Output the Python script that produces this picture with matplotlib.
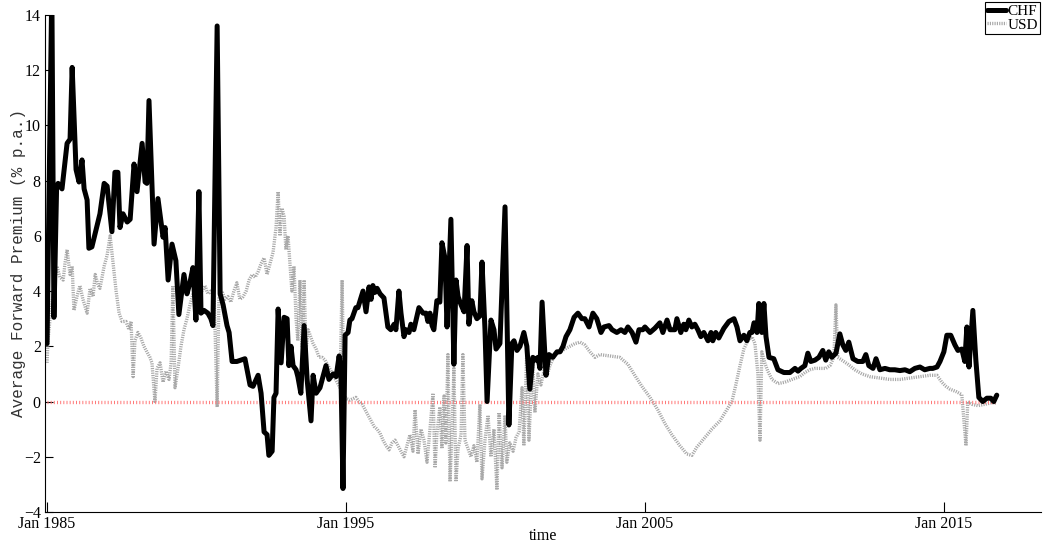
import matplotlib
matplotlib.use("Agg")
import matplotlib.pyplot as plt
import numpy as np

# CHF forward premium (decimal year, % p.a.)
chf_t = [1985.0, 1985.16, 1985.23, 1985.32, 1985.37, 1985.50, 1985.67, 1985.77, 1985.84, 1985.97,
         1986.07, 1986.17, 1986.24, 1986.34, 1986.40, 1986.50, 1986.77, 1986.91, 1987.01, 1987.17,
         1987.27, 1987.37, 1987.44, 1987.54, 1987.68, 1987.78, 1987.91, 1988.01, 1988.18, 1988.28,
         1988.34, 1988.41, 1988.58, 1988.71, 1988.88, 1988.95, 1989.05, 1989.18, 1989.31, 1989.41,
         1989.58, 1989.68, 1989.78, 1989.88, 1989.98, 1990.08, 1990.15, 1990.25, 1990.38, 1990.48,
         1990.55, 1990.69, 1990.79, 1990.89, 1991.02, 1991.09, 1991.19, 1991.35, 1991.62, 1991.79,
         1991.89, 1992.06, 1992.16, 1992.26, 1992.36, 1992.42, 1992.53, 1992.59, 1992.66, 1992.73,
         1992.83, 1992.93, 1993.03, 1993.09, 1993.16, 1993.23, 1993.33, 1993.39, 1993.49, 1993.60,
         1993.70, 1993.83, 1993.90, 1994.00, 1994.13, 1994.33, 1994.43, 1994.57, 1994.67, 1994.77,
         1994.83, 1994.90, 1994.97, 1995.07, 1995.13, 1995.20, 1995.33, 1995.40, 1995.57, 1995.67,
         1995.77, 1995.84, 1995.90, 1995.97, 1996.04, 1996.14, 1996.27, 1996.40, 1996.50, 1996.61,
         1996.67, 1996.77, 1996.84, 1996.94, 1997.01, 1997.11, 1997.17, 1997.27, 1997.44, 1997.58,
         1997.68, 1997.74, 1997.81, 1997.88, 1997.94, 1998.04, 1998.14, 1998.21, 1998.31, 1998.38,
         1998.51, 1998.61, 1998.68, 1998.75, 1998.85, 1998.95, 1999.05, 1999.11, 1999.21, 1999.28,
         1999.38, 1999.48, 1999.55, 1999.65, 1999.72, 1999.85, 1999.95, 2000.02, 2000.15, 2000.32,
         2000.45, 2000.55, 2000.62, 2000.72, 2000.82, 2000.95, 2001.05, 2001.15, 2001.25, 2001.35,
         2001.42, 2001.49, 2001.56, 2001.69, 2001.79, 2001.92, 2002.06, 2002.16, 2002.26, 2002.36,
         2002.49, 2002.63, 2002.76, 2002.89, 2002.99, 2003.13, 2003.26, 2003.39, 2003.53, 2003.63,
         2003.80, 2003.90, 2004.06, 2004.20, 2004.33, 2004.43, 2004.57, 2004.70, 2004.80, 2004.93,
         2005.00, 2005.17, 2005.33, 2005.50, 2005.60, 2005.74, 2005.84, 2006.00, 2006.07, 2006.20,
         2006.30, 2006.37, 2006.47, 2006.57, 2006.67, 2006.77, 2006.87, 2006.97, 2007.11, 2007.21,
         2007.27, 2007.37, 2007.47, 2007.64, 2007.81, 2007.98, 2008.08, 2008.18, 2008.31, 2008.41,
         2008.51, 2008.58, 2008.65, 2008.75, 2008.81, 2008.91, 2008.98, 2009.05, 2009.15, 2009.31,
         2009.45, 2009.65, 2009.85, 2010.02, 2010.12, 2010.22, 2010.35, 2010.45, 2010.55, 2010.69,
         2010.82, 2010.95, 2011.05, 2011.15, 2011.25, 2011.39, 2011.52, 2011.62, 2011.72, 2011.82,
         2011.96, 2012.12, 2012.29, 2012.39, 2012.49, 2012.63, 2012.73, 2012.86, 2013.03, 2013.19,
         2013.36, 2013.53, 2013.70, 2013.86, 2014.03, 2014.20, 2014.36, 2014.53, 2014.63, 2014.77,
         2014.87, 2015.00, 2015.10, 2015.23, 2015.37, 2015.47, 2015.60, 2015.70, 2015.77, 2015.84,
         2015.97, 2016.07, 2016.17, 2016.30, 2016.44, 2016.57, 2016.67, 2016.77]
chf_v = [2.1, 15.0, 3.05, 7.75, 7.9, 7.7, 9.35, 9.5, 12.1, 8.4,
         7.95, 8.75, 7.7, 7.3, 5.55, 5.6, 6.8, 7.9, 7.8, 6.15,
         8.3, 8.3, 6.3, 6.8, 6.5, 6.6, 8.6, 7.6, 9.35, 7.95,
         7.9, 10.9, 5.7, 7.35, 5.95, 6.3, 4.4, 5.7, 5.1, 3.15,
         4.6, 3.9, 4.3, 4.85, 2.95, 7.6, 3.2, 3.3, 3.2, 3.0,
         2.75, 13.6, 3.9, 3.5, 2.75, 2.5, 1.45, 1.45, 1.55, 0.6,
         0.55, 0.95, 0.3, -1.1, -1.2, -1.95, -1.8, 0.15, 0.3, 3.35,
         1.4, 3.05, 3.0, 1.3, 2.0, 1.3, 1.15, 0.9, 0.3, 2.75,
         0.8, -0.7, 0.95, 0.3, 0.5, 1.3, 0.8, 1.0, 0.9, 1.65,
         1.1, -3.15, 2.4, 2.5, 2.95, 3.0, 3.4, 3.4, 4.0, 3.25,
         4.15, 3.7, 4.2, 3.95, 4.1, 3.9, 3.75, 2.7, 2.6, 2.8,
         2.6, 4.0, 3.2, 2.35, 2.6, 2.5, 2.8, 2.6, 3.4, 3.2,
         3.2, 2.9, 3.2, 2.75, 2.6, 3.65, 3.6, 5.75, 5.2, 2.7,
         6.6, 1.35, 4.4, 3.8, 3.5, 3.25, 5.65, 2.8, 3.65, 3.25,
         3.0, 3.1, 5.05, 2.6, 0.0, 2.95, 2.6, 1.9, 2.1, 7.05,
         -0.85, 2.1, 2.2, 1.85, 2.0, 2.5, 2.0, 0.45, 1.6, 1.5,
         1.6, 1.2, 3.6, 0.95, 1.7, 1.6, 1.8, 1.8, 2.0, 2.35,
         2.6, 3.05, 3.2, 3.0, 3.0, 2.7, 3.2, 3.0, 2.5, 2.7,
         2.75, 2.6, 2.5, 2.6, 2.5, 2.7, 2.5, 2.15, 2.6, 2.6,
         2.7, 2.5, 2.65, 2.85, 2.5, 2.95, 2.6, 2.6, 3.0, 2.5,
         2.8, 2.6, 2.95, 2.7, 2.8, 2.6, 2.35, 2.5, 2.2, 2.5,
         2.2, 2.5, 2.3, 2.65, 2.9, 3.0, 2.7, 2.2, 2.4, 2.2,
         2.5, 2.5, 2.85, 2.5, 3.55, 2.5, 3.55, 2.35, 1.6, 1.55,
         1.15, 1.05, 1.05, 1.2, 1.1, 1.2, 1.3, 1.75, 1.45, 1.5,
         1.6, 1.85, 1.5, 1.8, 1.6, 1.75, 2.45, 2.05, 1.85, 2.15,
         1.55, 1.45, 1.45, 1.7, 1.3, 1.2, 1.55, 1.15, 1.2, 1.15,
         1.15, 1.12, 1.15, 1.08, 1.2, 1.25, 1.15, 1.2, 1.2, 1.25,
         1.45, 1.8, 2.4, 2.4, 2.05, 1.85, 1.9, 1.45, 2.7, 1.25,
         3.3, 1.5, 0.15, 0.0, 0.12, 0.12, 0.0, 0.23]

# USD forward premium (decimal year, % p.a.)
usd_t = [1985.0, 1985.03, 1985.10, 1985.17, 1985.23, 1985.33, 1985.43, 1985.54, 1985.60, 1985.67,
         1985.77, 1985.84, 1985.90, 1986.00, 1986.10, 1986.20, 1986.34, 1986.44, 1986.54, 1986.61,
         1986.71, 1986.77, 1986.91, 1987.01, 1987.11, 1987.21, 1987.31, 1987.41, 1987.51, 1987.64,
         1987.74, 1987.81, 1987.88, 1987.94, 1988.04, 1988.14, 1988.24, 1988.34, 1988.44, 1988.51,
         1988.61, 1988.68, 1988.78, 1988.88, 1988.98, 1989.08, 1989.15, 1989.21, 1989.28, 1989.38,
         1989.48, 1989.58, 1989.68, 1989.78, 1989.88, 1989.98, 1990.08, 1990.18, 1990.28, 1990.38,
         1990.48, 1990.59, 1990.69, 1990.75, 1990.85, 1990.95, 1991.05, 1991.15, 1991.25, 1991.35,
         1991.45, 1991.56, 1991.66, 1991.76, 1991.86, 1991.96, 1992.06, 1992.16, 1992.26, 1992.36,
         1992.46, 1992.56, 1992.66, 1992.73, 1992.79, 1992.86, 1992.93, 1992.99, 1993.06, 1993.13,
         1993.19, 1993.26, 1993.33, 1993.39, 1993.46, 1993.53, 1993.60, 1993.66, 1993.73, 1993.80,
         1993.90, 1994.00, 1994.10, 1994.20, 1994.30, 1994.40, 1994.50, 1994.60, 1994.70, 1994.80,
         1994.87, 1994.93, 1995.03, 1995.13, 1995.23, 1995.33, 1995.43, 1995.54, 1995.64, 1995.74,
         1995.84, 1995.94, 1996.04, 1996.14, 1996.24, 1996.34, 1996.44, 1996.54, 1996.64, 1996.74,
         1996.84, 1996.94, 1997.04, 1997.14, 1997.24, 1997.31, 1997.41, 1997.51, 1997.61, 1997.71,
         1997.81, 1997.91, 1997.98, 1998.04, 1998.14, 1998.21, 1998.28, 1998.34, 1998.41, 1998.48,
         1998.55, 1998.61, 1998.68, 1998.75, 1998.85, 1998.91, 1998.98, 1999.08, 1999.18, 1999.28,
         1999.38, 1999.48, 1999.55, 1999.65, 1999.75, 1999.85, 1999.95, 2000.05, 2000.12, 2000.22,
         2000.32, 2000.38, 2000.48, 2000.59, 2000.69, 2000.79, 2000.89, 2000.95, 2001.05, 2001.12,
         2001.19, 2001.25, 2001.32, 2001.42, 2001.52, 2001.62, 2001.72, 2001.82, 2001.99, 2002.16,
         2002.32, 2002.49, 2002.66, 2002.83, 2002.99, 2003.16, 2003.33, 2003.49, 2003.83, 2004.16,
         2004.43, 2004.66, 2004.90, 2005.17, 2005.43, 2005.67, 2005.90, 2006.17, 2006.40, 2006.57,
         2006.74, 2007.01, 2007.24, 2007.51, 2007.74, 2007.91, 2008.04, 2008.18, 2008.31, 2008.44,
         2008.58, 2008.68, 2008.78, 2008.85, 2008.91, 2009.01, 2009.11, 2009.25, 2009.45, 2009.68,
         2009.92, 2010.18, 2010.35, 2010.52, 2010.69, 2010.85, 2011.05, 2011.19, 2011.32, 2011.39,
         2011.45, 2011.59, 2011.79, 2012.02, 2012.26, 2012.53, 2012.86, 2013.19, 2013.53, 2013.86,
         2014.20, 2014.53, 2014.77, 2014.93, 2015.07, 2015.20, 2015.43, 2015.60, 2015.74, 2015.80,
         2015.94, 2016.14, 2016.37, 2016.57, 2016.77]
usd_v = [1.4, 2.2, 3.0, 3.6, 4.2, 4.9, 4.5, 4.4, 5.0, 5.5,
         4.6, 4.9, 3.3, 3.8, 4.2, 3.7, 3.2, 4.1, 3.8, 4.6,
         4.2, 4.1, 4.9, 5.3, 6.0, 5.0, 4.0, 3.2, 2.9, 2.9,
         2.6, 2.9, 0.9, 2.2, 2.5, 2.3, 2.0, 1.8, 1.6, 1.4,
         0.0, 1.2, 1.4, 0.7, 1.1, 0.8, 1.4, 4.2, 0.5, 1.2,
         2.0, 2.6, 3.0, 3.5, 3.9, 3.7, 4.3, 4.0, 4.2, 3.9,
         4.0, 3.8, -0.2, 3.8, 4.0, 3.7, 3.8, 3.6, 4.0, 4.3,
         3.7, 3.8, 4.0, 4.4, 4.6, 4.5, 4.7, 5.0, 5.2, 4.6,
         5.0, 5.4, 6.3, 7.6, 6.0, 7.0, 6.7, 5.5, 6.0, 4.9,
         4.0, 4.9, 3.0, 2.2, 4.4, 2.0, 4.4, 1.8, 2.6, 2.4,
         2.1, 1.9, 1.6, 1.6, 1.5, 1.3, 1.1, 0.9, 0.7, 0.5,
         4.4, 0.2, 0.1, 0.05, 0.1, 0.15, 0.0, -0.1, -0.3, -0.5,
         -0.7, -0.9, -1.0, -1.15, -1.4, -1.6, -1.75, -1.5, -1.4, -1.6,
         -1.8, -2.0, -1.6, -1.2, -1.8, -0.3, -1.9, -1.0, -1.4, -2.2,
         -1.0, 0.3, -2.4, -1.2, -0.2, -1.7, 0.2, -1.5, 1.7, -2.9,
         -1.0, 1.2, -2.9, -1.7, -1.2, 1.7, -1.4, -1.7, -2.0, -1.6,
         -2.2, -0.1, -2.8, -1.4, -0.5, -2.0, -1.0, -3.2, -0.4, -2.4,
         -0.5, -2.2, -1.5, -1.8, -1.3, -1.1, 0.5, -1.6, 1.9, -1.4,
         0.3, 1.3, -0.4, 1.0, 0.6, 1.1, 0.9, 1.3, 1.7, 1.8,
         1.9, 2.0, 2.1, 2.15, 2.05, 1.8, 1.6, 1.7, 1.65, 1.6,
         1.35, 0.95, 0.55, 0.15, -0.3, -0.8, -1.2, -1.6, -1.9, -1.95,
         -1.65, -1.3, -1.0, -0.7, -0.3, 0.0, 0.6, 1.3, 1.9, 2.2,
         2.35, 2.1, 1.0, -1.4, 1.8, 1.4, 1.1, 0.8, 0.65, 0.7,
         0.8, 0.9, 1.05, 1.15, 1.2, 1.2, 1.2, 1.3, 1.6, 3.5,
         1.6, 1.5, 1.35, 1.15, 1.0, 0.9, 0.85, 0.8, 0.8, 0.85,
         0.9, 0.95, 0.95, 0.7, 0.55, 0.45, 0.35, 0.25, -1.6, 0.0,
         -0.1, -0.15, -0.1, -0.05, -0.05]

tick_years = [1985, 1995, 2005, 2015]
tick_labels = ["Jan 1985", "Jan 1995", "Jan 2005", "Jan 2015"]
y_ticks = [-4, -2, 0, 2, 4, 6, 8, 10, 12, 14]

serif = "Liberation Serif"

fig = plt.figure(figsize=(10.43, 5.45), dpi=100)
ax = fig.add_axes([0.0431, 0.0606, 0.955, 0.912])

ax.plot(usd_t, usd_v, color="#a8a8a8", lw=2.4, linestyle=(0, (0.35, 0.35)),
        label="USD", zorder=2)
ax.plot([chf_t[0], chf_t[-1]], [0, 0], color="#ff7a7a", lw=2.4,
        linestyle=(0, (0.3, 0.65)), zorder=3)
ax.plot(chf_t, chf_v, color="black", lw=3.6, solid_joinstyle="round",
        solid_capstyle="round", label="CHF", zorder=4)

ax.set_xlim(1984.93, 2018.25)
ax.set_ylim(-4, 14)
ax.set_xticks(tick_years)
ax.set_xticklabels(tick_labels, fontfamily=serif, fontsize=11.5)
ax.set_yticks(y_ticks)
ax.set_yticklabels([f"{v}".replace("-", "\u2212") for v in y_ticks],
                   fontfamily=serif, fontsize=11.5)
ax.tick_params(direction="in", length=7, width=0.8, pad=3)
ax.tick_params(axis="y", length=5.8)

for s in ["top", "right"]:
    ax.spines[s].set_visible(False)
for s in ["left", "bottom"]:
    ax.spines[s].set_linewidth(0.8)

ax.set_xlabel("time", fontfamily=serif, fontsize=11.5, labelpad=-3)
ax.set_ylabel("Average Forward Premium (% p.a.)", fontfamily="Liberation Mono",
              fontsize=11.5, color="#333333")
ax.yaxis.set_label_coords(-0.019, 0.5)

handles, labels = ax.get_legend_handles_labels()
order = [1, 0]
leg = ax.legend([handles[i] for i in order], [labels[i] for i in order],
                loc="upper right", bbox_to_anchor=(1040 / 1043, 1 - 2 / 545),
                bbox_transform=fig.transFigure, fancybox=False, framealpha=1,
                edgecolor="black", handlelength=1.2, handletextpad=0.1,
                borderpad=0.15, labelspacing=0.0, borderaxespad=0,
                prop={"family": serif, "size": 11})
leg.get_frame().set_linewidth(0.8)

fig.savefig("out.png", dpi=100)
